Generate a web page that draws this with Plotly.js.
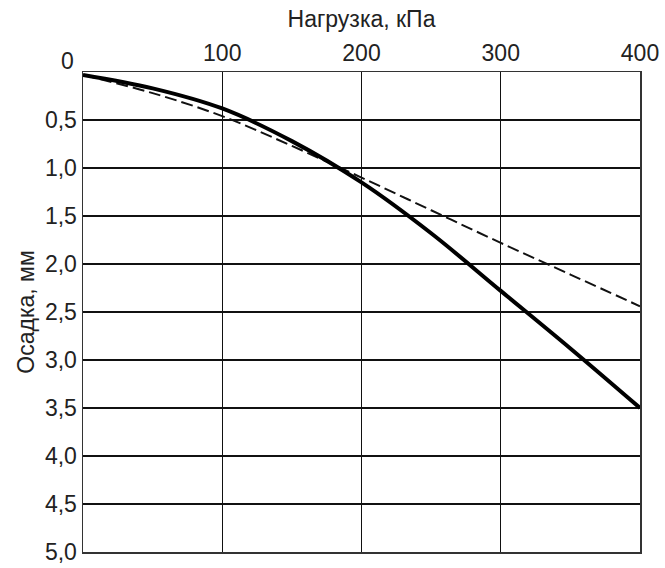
<!DOCTYPE html>
<html>
<head>
<meta charset="utf-8">
<script src="https://cdn.plot.ly/plotly-3.0.1.min.js"></script>
<style>html,body{margin:0;padding:0;background:#fff;}#chart{width:665px;height:568px;}</style>
</head>
<body>
<div id="chart"></div>
<script>
const load = [0, 50, 100, 150, 200, 250, 300, 350, 400];
const settlementSolid = [0.03, 0.17, 0.38, 0.72, 1.15, 1.68, 2.28, 2.88, 3.50];
const settlementDashed = [0.03, 0.22, 0.46, 0.77, 1.10, 1.44, 1.78, 2.11, 2.44];
const xTickVals = [100, 200, 300, 400];
const xTickText = ['100', '200', '300', '400'];
const yTickVals = [0.5, 1.0, 1.5, 2.0, 2.5, 3.0, 3.5, 4.0, 4.5, 5.0];
const yTickText = ['0,5', '1,0', '1,5', '2,0', '2,5', '3,0', '3,5', '4,0', '4,5', '5,0'];

const traces = [
  {x: load, y: settlementDashed, mode: 'lines', line: {color: '#111', width: 2, dash: '12px,5px', shape: 'spline'}, showlegend: false, hoverinfo: 'skip'},
  {x: load, y: settlementSolid, mode: 'lines', line: {color: '#000', width: 4, shape: 'spline'}, showlegend: false, hoverinfo: 'skip'}
];

const font = {family: '"Liberation Sans", Arial, sans-serif', size: 23, color: '#222'};

const layout = {
  width: 665, height: 568,
  margin: {l: 83, r: 25, t: 72, b: 16},
  paper_bgcolor: '#fff', plot_bgcolor: '#fff',
  font: font,
  showlegend: false,
  xaxis: {
    side: 'top', range: [0, 400], tickvals: xTickVals, ticktext: xTickText,
    showgrid: true, gridcolor: '#111', gridwidth: 1.2,
    showline: true, linecolor: '#333', linewidth: 1.5, mirror: true,
    ticks: '', zeroline: false, tickfont: font,
    title: {text: 'Нагрузка, кПа', font: font, standoff: 6}
  },
  yaxis: {
    range: [5, 0], tickvals: yTickVals, ticktext: yTickText,
    showgrid: true, gridcolor: '#111', gridwidth: 1.2,
    showline: true, linecolor: '#333', linewidth: 1.5, mirror: true,
    ticks: '', zeroline: false, tickfont: font,
    title: {text: 'Осадка, мм', font: font, standoff: 4}
  },
  annotations: [
    {text: '0', xref: 'paper', yref: 'paper', x: -0.027, y: 1.023, xanchor: 'center', yanchor: 'middle', showarrow: false, font: font}
  ]
};

Plotly.newPlot('chart', traces, layout, {staticPlot: true, displayModeBar: false});
</script>
</body>
</html>
